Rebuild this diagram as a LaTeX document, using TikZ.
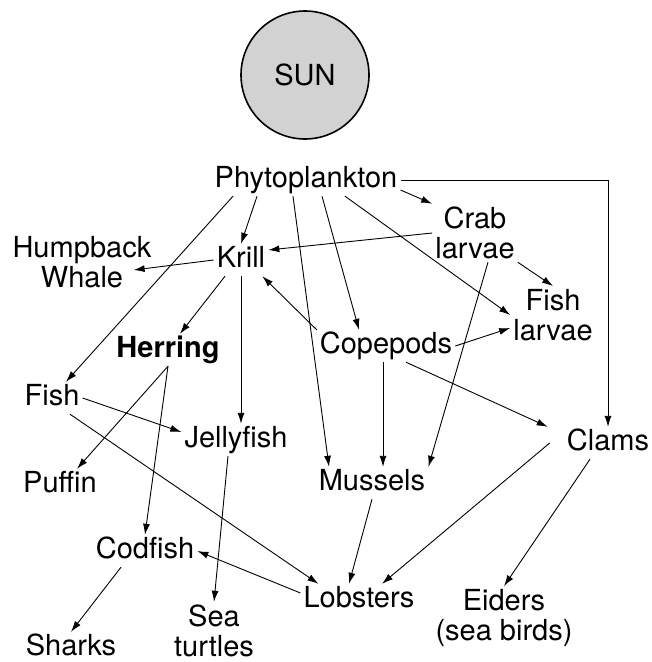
\documentclass[tikz,border=0pt]{standalone}
\usepackage{fontspec}
\setmainfont{TeX Gyre Heros}
\usetikzlibrary{arrows.meta}

\tikzset{
  sp/.style={font=\fontsize{29}{30}\selectfont, inner sep=3pt, text height=20pt, text depth=6pt},
  sptwo/.style={font=\fontsize{29}{30}\selectfont, inner sep=3pt, align=center},
  eat/.style={-{Latex[length=11pt,width=7pt]}, line width=0.9pt},
}

\begin{document}
\begin{tikzpicture}[x=1pt,y=-1pt]
    \useasboundingbox (0,0) rectangle (652,662);

    % Sun
    \node[circle, draw, line width=1.6pt, fill=gray!35, minimum size=128pt, inner sep=0pt,
          font=\fontsize{29}{30}\selectfont] (sun) at (305,75) {SUN};

    % Vertices
    \node[sp] (phyto) at (306,180) {Phytoplankton};
    \node[sptwo] (crab) at (475,233) {Crab\\larvae};
    \node[sptwo] (fishlarvae) at (553,315) {Fish\\larvae};
    \node[sp] (krill) at (241,260) {Krill};
    \node[sptwo] (whale) at (82,262) {Humpback\\Whale};
    \node[sp, font=\fontsize{29}{30}\selectfont\bfseries] (herring) at (168,350) {Herring};
    \node[sp] (copepods) at (386,346) {Copepods};
    \node[sp] (fish) at (52,398) {Fish};
    \node[sp] (jelly) at (236,440) {Jellyfish};
    \node[sp] (puffin) at (60,485) {Puffin};
    \node[sp] (mussels) at (372,483) {Mussels};
    \node[sp] (clams) at (608,443) {Clams};
    \node[sp] (codfish) at (145,551) {Codfish};
    \node[sp] (lobsters) at (359,600) {Lobsters};
    \node[sp] (sharks) at (71,648) {Sharks};
    \node[sptwo] (turtles) at (214,631) {Sea\\turtles};
    \node[sptwo] (eiders) at (504,618) {Eiders\\(sea birds)};

    % Edges
    \draw[eat] ([yshift=-10pt]phyto.east) -- (crab.north west);
    \draw[eat] (phyto.east) -| (clams.north);
    \draw[eat] ([xshift=-49pt]phyto.south) -- (krill.north);
    \draw[eat] ([xshift=-73pt]phyto.south) -- ([xshift=14pt]fish.north);
    \draw[eat] ([xshift=-13pt]phyto.south) -- ([xshift=-43pt]mussels.north);
    \draw[eat] ([xshift=16pt]phyto.south) -- ([xshift=-27pt]copepods.north);
    \draw[eat] ([xshift=39pt]phyto.south) -- (fishlarvae.west);
    \draw[eat] (crab.west) -- ([yshift=10pt]krill.east);
    \draw[eat] (crab.south east) -- (fishlarvae.north);
    \draw[eat] ([xshift=13pt]crab.south) -- (mussels.north east);
    \draw[eat] (krill.west) -- ([xshift=-21pt,yshift=-8pt]whale.east);
    \draw[eat] ([xshift=-16pt]krill.south) -- ([xshift=12pt]herring.north);
    \draw[eat] (krill.south) -- ([xshift=5pt]jelly.north);
    \draw[eat] (copepods.north west) -- ([xshift=-6pt]krill.south east);
    \draw[eat] (copepods.east) -- ([yshift=-13pt]fishlarvae.west);
    \draw[eat] ([xshift=-3pt]copepods.south) -- ([xshift=11pt]mussels.north);
    \draw[eat] ([xshift=20pt]copepods.south) -- ([xshift=-16pt]clams.north west);
    \draw[eat] (herring.south) -- ([xshift=17pt]puffin.north);
    \draw[eat] (herring.south) -- (codfish.north);
    \draw[eat] (fish.east) -- ([yshift=8pt]jelly.west);
    \draw[eat] ([xshift=18pt]fish.south) -- ([xshift=18pt]lobsters.north west);
    \draw[eat] ([xshift=-8pt]jelly.south) -- (turtles.north);
    \draw[eat] ([xshift=-24pt]codfish.south) -- (sharks.north);
    \draw[eat] ([yshift=7pt]lobsters.west) -- (codfish.east);
    \draw[eat] (mussels.south) -- ([xshift=-10pt]lobsters.north);
    \draw[eat] ([xshift=-14pt]clams.west) -- ([xshift=23pt]lobsters.north);
    \draw[eat] ([xshift=-18pt]clams.south) -- (eiders.north);

\end{tikzpicture}
\end{document}
